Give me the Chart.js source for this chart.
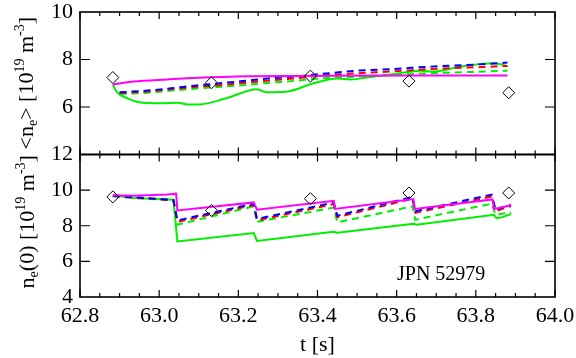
<!DOCTYPE html>
<html><head><meta charset="utf-8">
<script src="https://cdn.jsdelivr.net/npm/chart.js@4"></script>
<style>
html,body{margin:0;padding:0;background:#fff;}
#wrap{position:relative;width:576px;height:358px;background:#fff;}
canvas{position:absolute;left:0;top:0;width:576px;height:358px;}
</style>
</head><body>
<div id="wrap"><canvas id="cTop" width="576" height="358"></canvas><canvas id="cBot" width="576" height="358"></canvas></div>
<script>
// ---------- axis ticks ----------
const xMajorTicks = [62.8, 63.0, 63.2, 63.4, 63.6, 63.8, 64.0];
const topYTicks = [4, 6, 8, 10];
const botYTicks = [4, 6, 8, 10, 12];

// ---------- top panel: <n_e> ----------
const tDiamT = [62.883, 63.132, 63.382, 63.631, 63.883];
const tDiamV = [7.24, 7.02, 7.30, 7.09, 6.60];

const tMagT = [62.883, 62.935, 63.02, 63.10, 63.23, 63.36, 63.45, 63.64, 63.88];
const tMagV = [6.95, 7.07, 7.16, 7.23, 7.29, 7.31, 7.32, 7.33, 7.33];

const tDashT = [62.90, 62.97, 63.03, 63.095, 63.154, 63.21, 63.28, 63.34, 63.41, 63.50, 63.59, 63.686, 63.78, 63.88];
const tBlueV = [6.62, 6.69, 6.79, 6.91, 7.00, 7.09, 7.21, 7.28, 7.39, 7.53, 7.60, 7.70, 7.77, 7.87];
const tRedV = [6.59, 6.65, 6.75, 6.85, 6.92, 7.01, 7.12, 7.20, 7.32, 7.42, 7.50, 7.60, 7.66, 7.73];
const tGreenDV = [6.55, 6.60, 6.69, 6.78, 6.85, 6.92, 7.02, 7.10, 7.21, 7.28, 7.35, 7.42, 7.47, 7.53];

const tGreenT = [62.883, 62.893, 62.918, 62.95, 63.0, 63.048, 63.07, 63.10, 63.17, 63.247, 63.27, 63.32, 63.39, 63.45, 63.484, 63.53, 63.62, 63.66, 63.69, 63.76, 63.846, 63.88];
const tGreenV = [6.95, 6.64, 6.37, 6.20, 6.16, 6.18, 6.11, 6.11, 6.37, 6.75, 6.62, 6.64, 7.00, 7.20, 7.16, 7.25, 7.45, 7.53, 7.49, 7.70, 7.84, 7.73];

// ---------- bottom panel: n_e(0) ----------
const bDiamT = [62.883, 63.132, 63.382, 63.631, 63.883];
const bDiamV = [9.62, 8.86, 9.52, 9.84, 9.84];

const bMagT = [62.883, 62.935, 63.02, 63.043, 63.046, 63.239, 63.247, 63.441, 63.444, 63.642, 63.646, 63.842, 63.846, 63.889];
const bMagV = [9.71, 9.69, 9.75, 9.80, 8.86, 9.31, 8.90, 9.40, 8.94, 9.50, 8.94, 9.48, 8.94, 9.15];

const bDashT = [62.883, 62.95, 63.036, 63.046, 63.239, 63.247, 63.441, 63.45, 63.64, 63.647, 63.84, 63.85, 63.889];
const bBlueV = [9.68, 9.58, 9.45, 8.30, 9.24, 8.38, 9.31, 8.56, 9.62, 8.81, 9.75, 8.90, 9.18];
const bRedV = [9.67, 9.56, 9.43, 8.22, 9.17, 8.30, 9.22, 8.48, 9.52, 8.72, 9.64, 8.82, 9.10];
const bGreenDV = [9.65, 9.54, 9.42, 8.06, 9.09, 8.22, 9.02, 8.19, 9.09, 8.34, 9.24, 8.62, 8.75];

const bGreenT = [62.883, 62.935, 63.036, 63.046, 63.239, 63.247, 63.44, 63.45, 63.643, 63.65, 63.846, 63.852, 63.865, 63.889];
const bGreenV = [9.71, 9.56, 9.46, 7.12, 7.59, 7.15, 7.66, 7.61, 8.11, 8.06, 8.62, 8.43, 8.47, 8.66];

// ---------- helpers ----------
const FONT = "'Liberation Serif', 'Times New Roman', serif";
const MAG = '#ff00ff', GRN = '#00ee00', BLU = '#0000ff', RED = '#ff0000';
const pts = (t, v) => t.map((x, i) => ({x: x, y: v[i]}));

function lineDs(t, v, color, dashed, smooth) {
  return {data: pts(t, v), borderColor: color, borderWidth: 2, pointRadius: 0,
    borderDash: dashed ? [7, 5] : [], fill: false,
    cubicInterpolationMode: smooth ? 'monotone' : 'default', tension: 0};
}
function diamDs(t, v) {
  return {data: pts(t, v), showLine: false, pointStyle: 'rectRot', pointRadius: 6,
    pointBorderColor: '#000', pointBackgroundColor: 'rgba(0,0,0,0)', pointBorderWidth: 1,
    borderColor: '#000'};
}

function drawRich(ctx, parts, baseX, cy) {
  ctx.save();
  ctx.translate(baseX, cy);
  ctx.rotate(-Math.PI / 2);
  ctx.fillStyle = '#000';
  ctx.textBaseline = 'alphabetic';
  ctx.textAlign = 'left';
  let total = 0;
  parts.forEach(p => { ctx.font = (p.s || 22) + 'px ' + FONT; p.w = ctx.measureText(p.t).width; total += p.w; });
  let x = -total / 2;
  parts.forEach(p => { ctx.font = (p.s || 22) + 'px ' + FONT; ctx.fillText(p.t, x, p.dy || 0); x += p.w; });
  ctx.restore();
}

const framePlugin = {
  id: 'frame',
  afterDatasetsDraw(chart, args, opts) {
    const ctx = chart.ctx, a = chart.chartArea, xs = chart.scales.x, ys = chart.scales.y;
    ctx.save();
    ctx.strokeStyle = '#000';
    ctx.lineWidth = 1.2;
    ctx.beginPath();
    for (let k = 0; k <= 24; k++) {
      const v = 62.8 + k * 0.05;
      const major = (k % 4 === 0);
      const len = major ? 7 : 4;
      const px = xs.getPixelForValue(v);
      ctx.moveTo(px, a.top); ctx.lineTo(px, a.top + len);
      ctx.moveTo(px, a.bottom); ctx.lineTo(px, a.bottom - len);
    }
    opts.yTicks.forEach(v => {
      const py = ys.getPixelForValue(v);
      ctx.moveTo(a.left, py); ctx.lineTo(a.left + 10, py);
      ctx.moveTo(a.right, py); ctx.lineTo(a.right - 10, py);
    });
    ctx.stroke();
    ctx.lineWidth = 1.6;
    ctx.strokeRect(a.left, a.top, a.right - a.left, a.bottom - a.top);
    ctx.restore();
    if (opts.title) drawRich(ctx, opts.title, opts.titleX, (a.top + a.bottom) / 2 + (opts.titleDy || 0));
    if (opts.note) {
      ctx.save();
      ctx.font = '20px ' + FONT; ctx.fillStyle = '#000'; ctx.textBaseline = 'alphabetic';
      ctx.fillText(opts.note, a.right - 158, a.bottom - 17);
      ctx.font = '22px ' + FONT; ctx.textAlign = 'center';
      ctx.fillText('t [s]', (a.left + a.right) / 2, 351);
      ctx.restore();
    }
  }
};

function yAxis(min, max, tickVals, hideVals) {
  return {
    type: 'linear', min: min, max: max, position: 'left',
    grid: {display: false, drawTicks: false}, border: {display: false},
    ticks: {color: '#000', font: {family: FONT, size: 22}, padding: 7,
      callback: v => hideVals.indexOf(v) >= 0 ? '' : String(v)},
    afterBuildTicks: s => { s.ticks = tickVals.map(v => ({value: v})); },
    afterFit: s => { s.width = 80; s.paddingTop = 0; s.paddingBottom = 0; }
  };
}

const commonOpts = {
  responsive: false, animation: false, devicePixelRatio: 1,
  plugins: {legend: {display: false}, tooltip: {enabled: false}}
};

// ---------- top chart ----------
new Chart(document.getElementById('cTop'), {
  type: 'line',
  data: {datasets: [
    diamDs(tDiamT, tDiamV),
    lineDs(tMagT, tMagV, MAG, false, true),
    lineDs(tDashT, tBlueV, BLU, true, true),
    lineDs(tDashT, tRedV, RED, true, true),
    lineDs(tDashT, tGreenDV, GRN, true, true),
    lineDs(tGreenT, tGreenV, GRN, false, true)
  ]},
  options: Object.assign({}, commonOpts, {
    layout: {padding: {left: 0, right: 21, top: 12, bottom: 203.5}},
    scales: {
      x: {type: 'linear', min: 62.8, max: 64.0, display: false},
      y: yAxis(4, 10, topYTicks, [4])
    },
    plugins: Object.assign({}, commonOpts.plugins, {
      frame: {yTicks: [6, 8], titleX: 33, titleDy: 0,
        title: [{t: '<n'}, {t: 'e', s: 14, dy: 4}, {t: '> [10'}, {t: '19', s: 14, dy: -9}, {t: ' m'}, {t: '-3', s: 14, dy: -9}, {t: ']'}]}
    })
  }),
  plugins: [framePlugin]
});

// ---------- bottom chart ----------
new Chart(document.getElementById('cBot'), {
  type: 'line',
  data: {datasets: [
    diamDs(bDiamT, bDiamV),
    lineDs(bMagT, bMagV, MAG, false, false),
    lineDs(bDashT, bBlueV, BLU, true, false),
    lineDs(bDashT, bRedV, RED, true, false),
    lineDs(bDashT, bGreenDV, GRN, true, false),
    lineDs(bGreenT, bGreenV, GRN, false, false)
  ]},
  options: Object.assign({}, commonOpts, {
    layout: {padding: {left: 0, right: 21, top: 154.5, bottom: 0}},
    scales: {
      x: {type: 'linear', min: 62.8, max: 64.0, position: 'bottom',
        grid: {display: false, drawTicks: false}, border: {display: false},
        ticks: {color: '#000', font: {family: FONT, size: 22}, padding: 6, maxRotation: 0, autoSkip: false,
          callback: v => Number(v).toFixed(1)},
        afterBuildTicks: s => { s.ticks = xMajorTicks.map(v => ({value: v})); },
        afterFit: s => { s.height = 61; s.paddingLeft = 0; s.paddingRight = 0; }
      },
      y: yAxis(4, 12, botYTicks, [])
    },
    plugins: Object.assign({}, commonOpts.plugins, {
      frame: {yTicks: [6, 8, 10], titleX: 34, titleDy: -4, note: 'JPN 52979',
        title: [{t: 'n'}, {t: 'e', s: 14, dy: 4}, {t: '(0) [10'}, {t: '19', s: 14, dy: -9}, {t: ' m'}, {t: '-3', s: 14, dy: -9}, {t: ']'}]}
    })
  }),
  plugins: [framePlugin]
});
</script>
</body></html>
